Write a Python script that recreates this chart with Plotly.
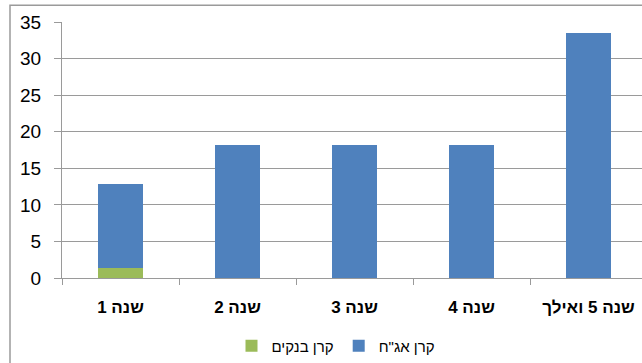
import plotly.graph_objects as go

categories = ["שנה 1", "שנה 2", "שנה 3", "שנה 4", "שנה 5 ואילך"]
bank_principal = [1.4, 0, 0, 0, 0]
bond_principal = [11.5, 18.2, 18.2, 18.2, 33.5]
series_names = ["קרן בנקים", "קרן אג\"ח"]
y_ticks = [0, 5, 10, 15, 20, 25, 30, 35]

W, H = 642, 363
L, R, T, B = 62, 0, 22, 81
pw = W - L - R
ph = H - T - B

fig = go.Figure()
fig.add_trace(go.Bar(x=categories, y=bank_principal, name=series_names[0],
                     marker=dict(color="#9bbb59", line=dict(width=0))))
fig.add_trace(go.Bar(x=categories, y=bond_principal, name=series_names[1],
                     marker=dict(color="#4f81bd", line=dict(width=0))))

font = "Liberation Sans, Arial, sans-serif"
cat_w = 117.0
fig.update_layout(
    width=W, height=H,
    margin=dict(l=L, r=R, t=T, b=B, pad=0),
    barmode="stack", bargap=0.607,
    plot_bgcolor="white", paper_bgcolor="white",
    font=dict(family=font, color="#000000"),
    xaxis=dict(
        type="category", range=[-0.5, -0.5 + pw / cat_w],
        showline=True, linecolor="#9a9a9a", linewidth=1,
        ticks="outside", tickson="boundaries", ticklen=6, tickcolor="#9a9a9a",
        tickfont=dict(family=font, size=17, color="#000000", weight="bold"),
        ticklabelstandoff=14,
        showgrid=False, fixedrange=True,
    ),
    yaxis=dict(
        range=[0, 35], tickvals=y_ticks,
        showline=True, linecolor="#9a9a9a", linewidth=1,
        ticks="outside", ticklen=7, tickcolor="#9a9a9a",
        showgrid=True, gridcolor="#9a9a9a", gridwidth=1,
        tickfont=dict(family=font, size=19, color="#000000"),
        ticklabelstandoff=9, zeroline=False,
    ),
    legend=dict(
        orientation="h", x=(336 - L) / pw, xanchor="center",
        y=-(351 - (T + ph)) / ph, yanchor="middle",
        font=dict(family=font, size=15, color="#000000"),
        itemwidth=30, traceorder="normal", bgcolor="rgba(0,0,0,0)",
    ),
    shapes=[dict(type="rect", xref="paper", yref="paper",
                 x0=(10 - L) / pw, x1=1.2,
                 y0=-0.5, y1=(T + ph - 5) / ph,
                 line=dict(color="#9a9a9a", width=1.5), layer="below")],
    showlegend=True,
)

fig.write_html("out.html")
